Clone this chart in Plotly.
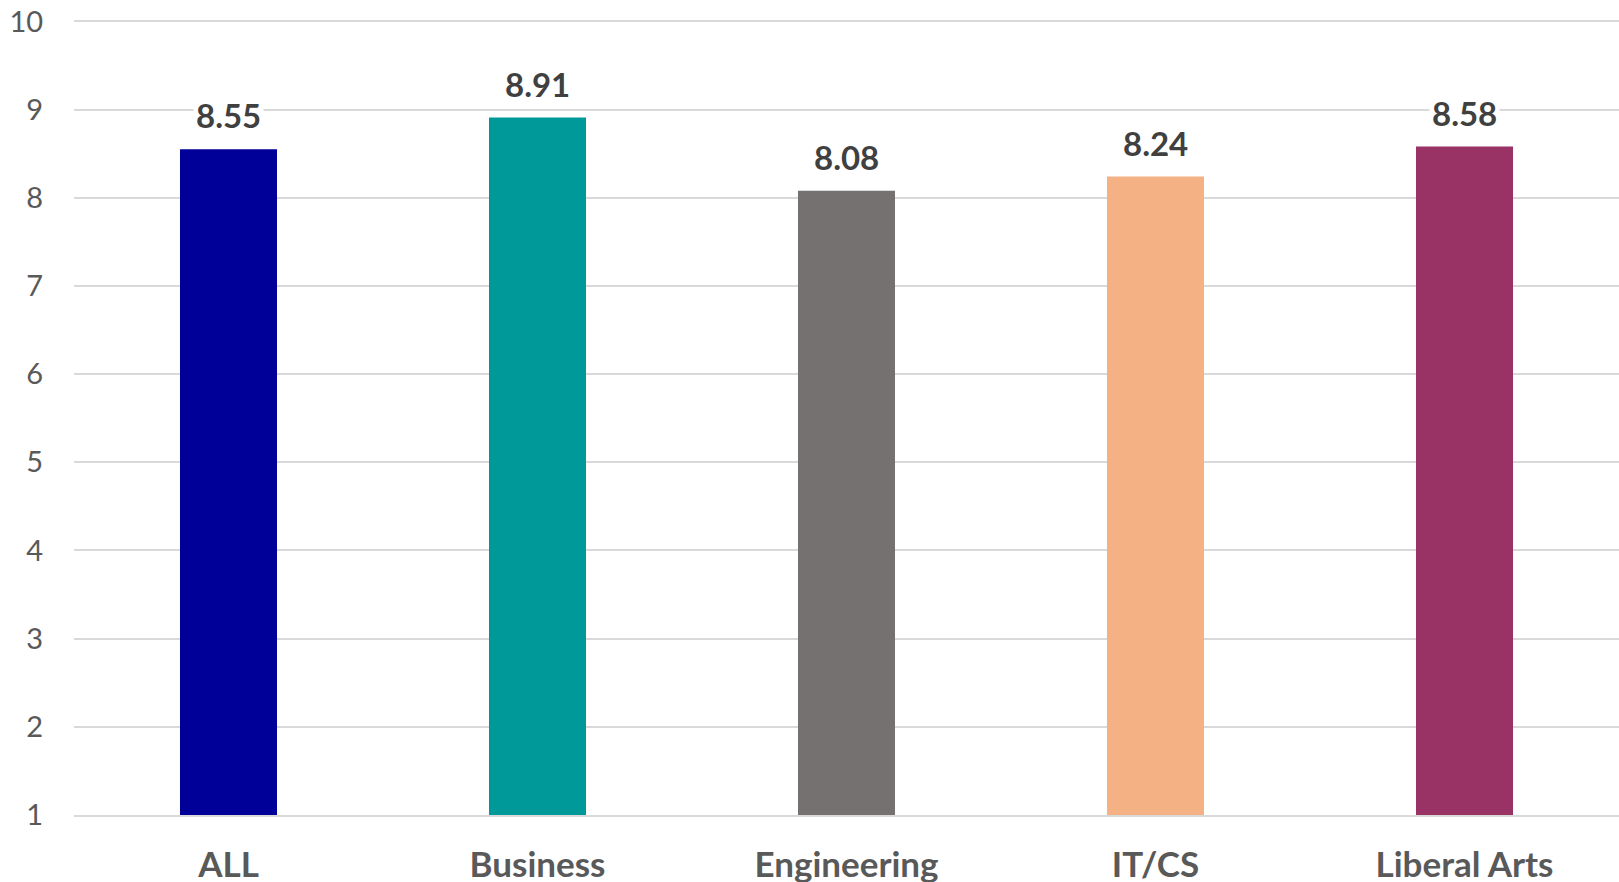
import plotly.graph_objects as go

categories = ["ALL", "Business", "Engineering", "IT/CS", "Liberal Arts"]
values = [8.55, 8.91, 8.08, 8.24, 8.58]
colors = ["#000099", "#009999", "#767171", "#F4B183", "#993366"]
y_ticks = [1, 2, 3, 4, 5, 6, 7, 8, 9, 10]

fig = go.Figure()
fig.add_trace(go.Bar(
    x=categories,
    y=values,
    marker=dict(color=colors, line=dict(width=0)),
    hoverinfo="x+y",
))

for c, v in zip(categories, values):
    fig.add_annotation(
        x=c, y=v, text=f"{v:.2f}", showarrow=False,
        yanchor="middle", yshift=34,
        font=dict(family="Lato", size=33, color="#404040", weight="bold"),
        bgcolor="white", borderpad=2,
    )

fig.update_layout(
    width=1619, height=882,
    margin=dict(l=74, r=0, t=17, b=67),
    plot_bgcolor="white", paper_bgcolor="white",
    bargap=0.686,
    showlegend=False,
    xaxis=dict(
        tickfont=dict(family="Lato", size=35, color="#595959", weight="bold"),
        showgrid=False,
        showline=True, linecolor="#d9d9d9", linewidth=2,
        ticks="outside", ticklen=18, tickcolor="rgba(0,0,0,0)",
        automargin=False,
        fixedrange=True,
    ),
    yaxis=dict(
        range=[1, 10.05],
        tickvals=y_ticks,
        tickfont=dict(family="Lato", size=29, color="#595959"),
        showgrid=True, gridcolor="#d9d9d9", gridwidth=2,
        zeroline=False,
        ticks="outside", ticklen=24, tickcolor="rgba(0,0,0,0)",
        automargin=False,
        fixedrange=True,
    ),
)

fig.write_html(
    "out.html",
    config={"displayModeBar": False},
    post_script="document.body.style.margin='0';document.body.style.overflow='hidden';",
)
